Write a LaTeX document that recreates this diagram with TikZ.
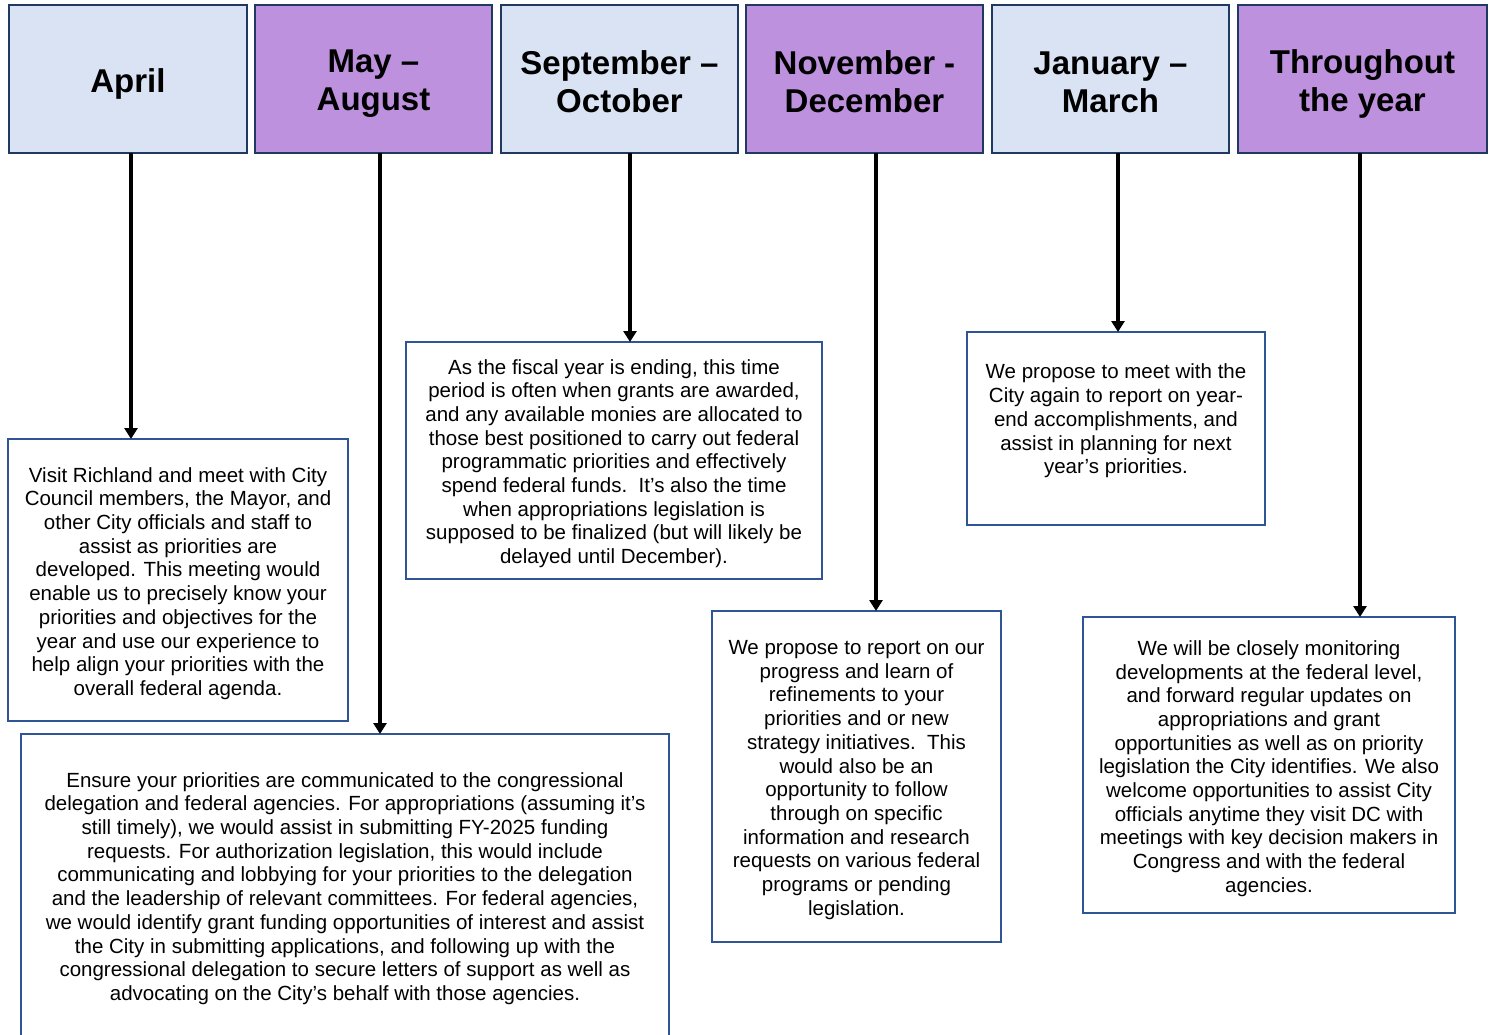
\documentclass[tikz,border=0pt]{standalone}
\usepackage{fontspec}
\setmainfont{Liberation Sans}
\usetikzlibrary{arrows.meta}
\definecolor{hdrlight}{HTML}{DAE3F3}
\definecolor{hdrpurple}{HTML}{BE91DF}
\definecolor{hdrborder}{HTML}{1F3960}
\definecolor{boxborder}{HTML}{2F5597}
\begin{document}
\begin{tikzpicture}[x=1pt,y=-1pt,
 hdr/.style={draw=hdrborder, line width=2.5pt, rectangle, anchor=north west, inner sep=0pt, outer sep=0pt, minimum height=148pt},
 lighthdr/.style={hdr, fill=hdrlight},
 purplehdr/.style={hdr, fill=hdrpurple},
 hdrtext/.style={inner sep=0pt, align=center, font=\fontsize{33}{38}\selectfont\bfseries},
 infobox/.style={draw=boxborder, line width=2.3pt, fill=white, rectangle, anchor=north west, inner sep=0pt, outer sep=0pt},
 bodytext/.style={inner sep=0pt, align=center, font=\fontsize{20.5}{23.7}\selectfont},
 flow/.style={line width=3.8pt, -{Triangle[width=13pt,length=11pt]}}]
\useasboundingbox (0,0) rectangle (1496,1034);
\fill[white] (0,0) rectangle (1496,1034);

% headers
\node[lighthdr, minimum width=238pt] (apr) at (9,5) {};
\node[purplehdr, minimum width=237pt] (may) at (255,5) {};
\node[lighthdr, minimum width=237pt] (sep) at (501,5) {};
\node[purplehdr, minimum width=237pt] (nov) at (746,5) {};
\node[lighthdr, minimum width=237pt] (jan) at (992,5) {};
\node[purplehdr, minimum width=249pt] (thr) at (1238,5) {};
\node[hdrtext] (apr-t) at ([yshift=-4.5pt]apr.center) {April};
\node[hdrtext] (may-t) at ([yshift=-4.5pt]may.center) {May –\\August};
\node[hdrtext] (sep-t) at ([yshift=-3pt]sep.center) {September –\\October};
\node[hdrtext] (nov-t) at ([yshift=-3pt]nov.center) {November -\\December};
\node[hdrtext] (jan-t) at ([yshift=-3pt]jan.center) {January –\\March};
\node[hdrtext] (thr-t) at ([yshift=-4.5pt]thr.center) {Throughout\\the year};

% info boxes
\node[infobox, minimum width=340pt, minimum height=282pt] (aprbox) at (8,439) {};
\node[infobox, minimum width=648pt, minimum height=306pt] (maybox) at (21,734) {};
\node[infobox, minimum width=416pt, minimum height=237pt] (sepbox) at (406,342) {};
\node[infobox, minimum width=289pt, minimum height=331pt] (novbox) at (712,611) {};
\node[infobox, minimum width=298pt, minimum height=193pt] (janbox) at (967,332) {};
\node[infobox, minimum width=372pt, minimum height=296pt] (thrbox) at (1083,617) {};

\node[bodytext] (aprbox-t) at ([yshift=-3.5pt]aprbox.center) {Visit Richland and meet with City\\
Council members, the Mayor, and\\
other City officials and staff to\\
assist as priorities are\\
developed. This meeting would\\
enable us to precisely know your\\
priorities and objectives for the\\
year and use our experience to\\
help align your priorities with the\\
overall federal agenda.};

\node[bodytext] (maybox-t) at ([yshift=-1.5pt]maybox.center) {Ensure your priorities are communicated to the congressional\\
delegation and federal agencies. For appropriations (assuming it’s\\
still timely), we would assist in submitting FY-2025 funding\\
requests. For authorization legislation, this would include\\
communicating and lobbying for your priorities to the delegation\\
and the leadership of relevant committees. For federal agencies,\\
we would identify grant funding opportunities of interest and assist\\
the City in submitting applications, and following up with the\\
congressional delegation to secure letters of support as well as\\
advocating on the City’s behalf with those agencies.};

\node[bodytext] (sepbox-t) at ([yshift=-3pt]sepbox.center) {As the fiscal year is ending, this time\\
period is often when grants are awarded,\\
and any available monies are allocated to\\
those best positioned to carry out federal\\
programmatic priorities and effectively\\
spend federal funds.\ \ It’s also the time\\
when appropriations legislation is\\
supposed to be finalized (but will likely be\\
delayed until December).};

\node[bodytext] (novbox-t) at ([yshift=-3.5pt]novbox.center) {We propose to report on our\\
progress and learn of\\
refinements to your\\
priorities and or new\\
strategy initiatives.\ \ This\\
would also be an\\
opportunity to follow\\
through on specific\\
information and research\\
requests on various federal\\
programs or pending\\
legislation.};

\node[bodytext] (janbox-t) at ([yshift=7.5pt]janbox.center) {We propose to meet with the\\
City again to report on year-\\
end accomplishments, and\\
assist in planning for next\\
year’s priorities.};

\node[bodytext] (thrbox-t) at ([yshift=-3.5pt]thrbox.center) {We will be closely monitoring\\
developments at the federal level,\\
and forward regular updates on\\
appropriations and grant\\
opportunities as well as on priority\\
legislation the City identifies. We also\\
welcome opportunities to assist City\\
officials anytime they visit DC with\\
meetings with key decision makers in\\
Congress and with the federal\\
agencies.};

% connectors
\draw[flow] ([xshift=3pt]apr.south) -- ([xshift=3pt]apr.south |- aprbox.north);
\draw[flow] ([xshift=6.5pt]may.south) -- ([xshift=6.5pt]may.south |- maybox.north);
\draw[flow] ([xshift=10.5pt]sep.south) -- ([xshift=10.5pt]sep.south |- sepbox.north);
\draw[flow] ([xshift=11.5pt]nov.south) -- ([xshift=11.5pt]nov.south |- novbox.north);
\draw[flow] ([xshift=7.5pt]jan.south) -- ([xshift=7.5pt]jan.south |- janbox.north);
\draw[flow] ([xshift=-2.5pt]thr.south) -- ([xshift=-2.5pt]thr.south |- thrbox.north);
\end{tikzpicture}
\end{document}
